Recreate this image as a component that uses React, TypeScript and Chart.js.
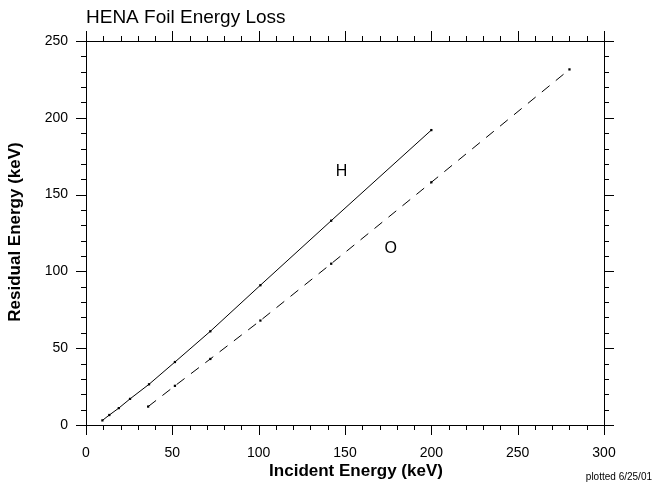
import React, { useEffect, useRef } from 'react';
import { Chart, registerables } from 'chart.js';

Chart.register(...registerables);

// H (hydrogen) curve
const hEnergyIn = [9.5, 13.5, 19, 25.5, 36.5, 51.5, 72, 101, 142, 200];
const hEnergyOut = [3, 6.5, 11, 17, 26.5, 41, 61, 91, 133, 192];

// O (oxygen) curve
const oEnergyIn = [36, 51.5, 72, 101, 142, 200, 280];
const oEnergyOut = [12, 25.5, 43, 68, 105, 158, 231.5];

const curveLabels = [
  { text: 'H', x: 148, y: 165 },
  { text: 'O', x: 176.5, y: 115 },
];

const FONT = 'Arial, "Liberation Sans", sans-serif';

const framePlugin = {
  id: 'frame',
  afterDraw(chart: any) {
    const { ctx, chartArea } = chart;
    const xs = chart.scales.x;
    const ys = chart.scales.y;
    const { left, right, top, bottom } = chartArea;

    ctx.save();
    ctx.strokeStyle = '#000';
    ctx.lineWidth = 1;
    ctx.strokeRect(left + 0.5, top + 0.5, right - left, bottom - top);

    // outward ticks on all four sides, major every 50, minor every 10
    ctx.beginPath();
    for (let v = 0; v <= 300; v += 10) {
      const px = Math.round(xs.getPixelForValue(v)) + 0.5;
      const len = v % 50 === 0 ? 10 : 5;
      ctx.moveTo(px, bottom);
      ctx.lineTo(px, bottom + len);
      ctx.moveTo(px, top);
      ctx.lineTo(px, top - len);
    }
    for (let v = 0; v <= 250; v += 10) {
      const py = Math.round(ys.getPixelForValue(v)) + 0.5;
      const len = v % 50 === 0 ? 10 : 5;
      ctx.moveTo(left, py);
      ctx.lineTo(left - len, py);
      ctx.moveTo(right, py);
      ctx.lineTo(right + len, py);
    }
    ctx.stroke();

    ctx.fillStyle = '#000';
    ctx.textAlign = 'left';
    ctx.textBaseline = 'alphabetic';
    ctx.font = `19px ${FONT}`;
    ctx.fillText('HENA Foil Energy Loss', 86, 23);

    ctx.textAlign = 'center';
    ctx.textBaseline = 'middle';
    ctx.font = `16px ${FONT}`;
    for (const l of curveLabels) {
      ctx.fillText(l.text, xs.getPixelForValue(l.x), ys.getPixelForValue(l.y));
    }

    ctx.font = `bold 17px ${FONT}`;
    ctx.textBaseline = 'alphabetic';
    ctx.fillText('Incident Energy (keV)', 356, 476);
    ctx.save();
    ctx.translate(20, 232);
    ctx.rotate(-Math.PI / 2);
    ctx.fillText('Residual Energy (keV)', 0, 0);
    ctx.restore();

    ctx.textAlign = 'right';
    ctx.font = `10px ${FONT}`;
    ctx.fillText('plotted 6/25/01', 652, 480);
    ctx.restore();
  },
};

const App: React.FC = () => {
  const canvasRef = useRef<HTMLCanvasElement | null>(null);

  useEffect(() => {
    document.body.style.margin = '0';
    if (!canvasRef.current) return;
    const ctx = canvasRef.current.getContext('2d');
    if (!ctx) return;

    const chart = new Chart(ctx, {
      type: 'line',
      data: {
        datasets: [
          {
            label: 'H',
            data: hEnergyIn.map((x, i) => ({ x, y: hEnergyOut[i] })),
            borderColor: '#000',
            backgroundColor: '#000',
            borderWidth: 1,
            pointStyle: 'rect',
            pointRadius: 1.6,
            pointBorderWidth: 0,
            tension: 0,
          },
          {
            label: 'O',
            data: oEnergyIn.map((x, i) => ({ x, y: oEnergyOut[i] })),
            borderColor: '#000',
            backgroundColor: '#000',
            borderWidth: 1,
            borderDash: [10, 8],
            pointStyle: 'rect',
            pointRadius: 1.6,
            pointBorderWidth: 0,
            tension: 0,
          },
        ],
      },
      options: {
        responsive: false,
        animation: false,
        devicePixelRatio: 1,
        layout: { padding: { left: 0, top: 41, right: 53, bottom: 0 } },
        plugins: {
          legend: { display: false },
          title: { display: false },
          tooltip: { enabled: false },
        },
        scales: {
          x: {
            type: 'linear',
            min: 0,
            max: 300,
            grid: { display: false, drawTicks: false },
            border: { display: false },
            ticks: {
              stepSize: 50,
              autoSkip: false,
              maxRotation: 0,
              padding: 20,
              color: '#000',
              font: { family: FONT, size: 14 },
            },
            afterFit: (s: any) => {
              s.height = 61;
            },
          },
          y: {
            type: 'linear',
            min: 0,
            max: 250,
            grid: { display: false, drawTicks: false },
            border: { display: false },
            ticks: {
              stepSize: 50,
              autoSkip: false,
              padding: 18,
              color: '#000',
              font: { family: FONT, size: 14 },
            },
            afterFit: (s: any) => {
              s.width = 86;
            },
          },
        },
      },
      plugins: [framePlugin],
    });

    return () => {
      chart.destroy();
    };
  }, []);

  return (
    <div style={{ width: 657, height: 486, background: '#fff' }}>
      <canvas ref={canvasRef} width={657} height={486} />
    </div>
  );
};

export default App;
